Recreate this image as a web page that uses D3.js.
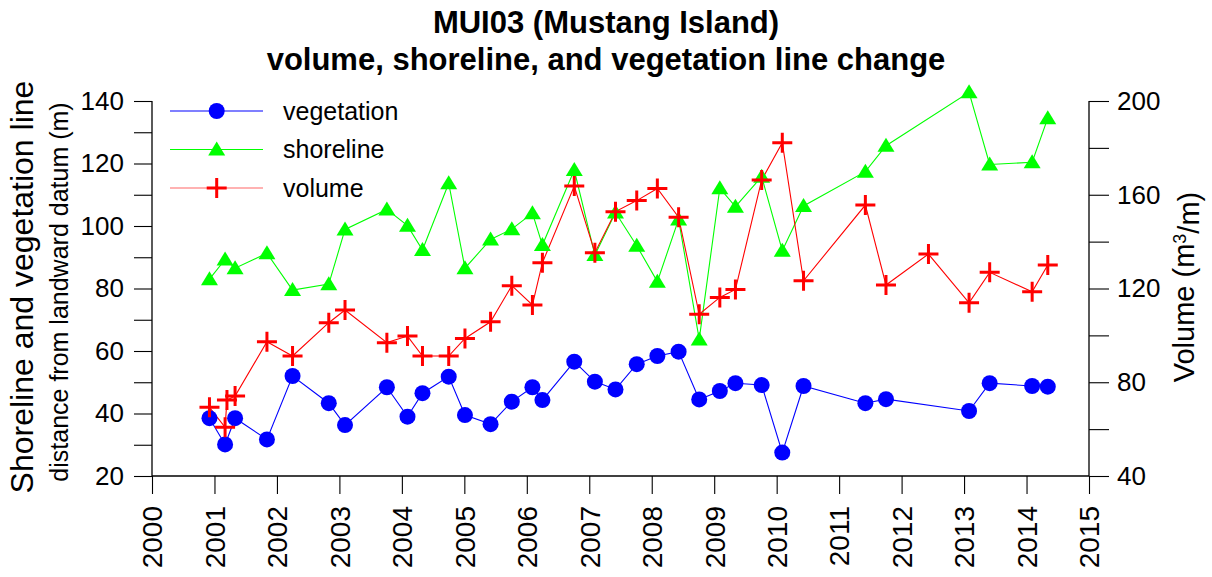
<!DOCTYPE html>
<html>
<head>
<meta charset="utf-8">
<script src="https://cdn.jsdelivr.net/npm/d3@7"></script>
<style>
  body { margin: 0; background: #fff; }
  svg { display: block; font-family: "Liberation Sans", Arial, sans-serif; }
</style>
</head>
<body>
<svg id="chart" width="1212" height="577"></svg>
<script>
// ---- data ----
const surveyDates = [2000.92, 2001.17, 2001.33, 2001.84, 2002.25, 2002.83, 2003.09, 2003.76, 2004.09, 2004.33,
  2004.75, 2005.01, 2005.42, 2005.76, 2006.09, 2006.25, 2006.76, 2007.09, 2007.42, 2007.76,
  2008.09, 2008.43, 2008.76, 2009.09, 2009.34, 2009.76, 2010.09, 2010.43, 2011.42, 2011.75,
  2013.08, 2013.41, 2014.09, 2014.34];
const vegetation = [38.5, 30.1, 38.5, 31.7, 52.0, 43.3, 36.3, 48.4, 39.0, 46.5,
  51.8, 39.5, 36.6, 43.8, 48.4, 44.3, 56.6, 50.2, 47.7, 55.8,
  58.4, 59.8, 44.5, 47.2, 49.7, 49.1, 27.5, 48.8, 43.3, 44.6,
  40.8, 49.7, 48.8, 48.6];
const shoreline = [83.0, 89.3, 86.5, 91.3, 79.5, 81.4, 98.9, 105.3, 100.1, 92.3,
  113.7, 86.5, 95.7, 99.0, 104.1, 93.9, 117.9, 90.7, 104.3, 93.7,
  82.2, 102.1, 63.7, 112.1, 106.2, 115.8, 92.1, 106.4, 117.4, 125.7,
  142.8, 119.7, 120.4, 134.5];
const volumeDates = [2000.92, 2001.17, 2001.20, 2001.33, 2001.84, 2002.25, 2002.83, 2003.09, 2003.76, 2004.09,
  2004.33, 2004.75, 2005.01, 2005.42, 2005.76, 2006.09, 2006.25, 2006.76, 2007.09, 2007.42,
  2007.76, 2008.09, 2008.43, 2008.76, 2009.09, 2009.34, 2009.76, 2010.09, 2010.43, 2011.42,
  2011.75, 2012.43, 2013.08, 2013.41, 2014.09, 2014.34];
const volume = [69.3, 60.8, 72.4, 74.1, 97.3, 91.2, 105.4, 110.8, 96.9, 99.7,
  91.2, 91.2, 98.7, 105.8, 121.2, 113.0, 131.0, 163.7, 135.3, 152.8,
  157.5, 162.7, 150.4, 109.0, 116.2, 119.6, 166.3, 182.2, 123.3, 155.6,
  121.5, 134.7, 113.9, 126.9, 118.6, 130.0];
const yearTicks = d3.range(2000, 2016);
const leftTicks = d3.range(20, 141, 10);
const rightTicks = d3.range(40, 201, 20);
const titleLines = ["MUI03 (Mustang Island)", "volume, shoreline, and vegetation line change"];
const legendLabels = ["vegetation", "shoreline", "volume"];

// ---- layout ----
const svg = d3.select("#chart");
const L = 152, R = 1089, T = 101, B = 476;
const x = d3.scaleLinear().domain([2000, 2015]).range([L, R]);
const yL = d3.scaleLinear().domain([20, 140]).range([B, T]);
const yR = d3.scaleLinear().domain([40, 200]).range([B, T]);

const blue = "#0000ff", green = "#00ff00", red = "#ff0000";

// axes
const gx = svg.append("g").attr("transform", `translate(0,${B})`)
  .call(d3.axisBottom(x).tickValues(yearTicks).tickSize(18).tickFormat(d3.format("d")));
gx.selectAll("text")
  .attr("transform", `translate(0,30) rotate(-90)`)
  .attr("x", 0).attr("y", 0).attr("dy", "0.35em")
  .attr("text-anchor", "end").style("font-size", "28px");

const gl = svg.append("g").attr("transform", `translate(${L},0)`)
  .call(d3.axisLeft(yL).tickValues(leftTicks).tickSize(18).tickPadding(10)
    .tickFormat(d => d % 20 === 0 ? d : ""));
gl.selectAll("text").style("font-size", "26px");

const gr = svg.append("g").attr("transform", `translate(${R},0)`)
  .call(d3.axisRight(yR).tickValues(rightTicks).tickSize(20).tickPadding(8)
    .tickFormat(d => d % 40 === 0 ? d : ""));
gr.selectAll("text").style("font-size", "26px");

svg.selectAll(".domain").attr("stroke", "#000").attr("stroke-width", 1.3);
svg.selectAll(".tick line").attr("stroke", "#000").attr("stroke-width", 1.1);
svg.selectAll(".tick text").attr("fill", "#000").style("font-family", "'Liberation Sans', Arial, sans-serif");
gx.select(".domain").attr("d", `M${L},0H${R}`);
gl.select(".domain").attr("d", `M0,${T}V${B}`);
gr.select(".domain").attr("d", `M0,${T}V${B}`);

// title
svg.append("g").selectAll("text").data(titleLines).join("text")
  .attr("x", 606).attr("y", (d, i) => 33 + i * 37)
  .attr("text-anchor", "middle").style("font-size", "31px").style("font-weight", "bold")
  .text(d => d);

// axis titles
svg.append("text").attr("transform", `translate(33,${287}) rotate(-90)`)
  .attr("text-anchor", "middle").style("font-size", "32px").text("Shoreline and vegetation line");
svg.append("text").attr("transform", `translate(68,${292}) rotate(-90)`)
  .attr("text-anchor", "middle").style("font-size", "25px").text("distance from landward datum (m)");
const vt = svg.append("text").attr("transform", `translate(1194,${287}) rotate(-90)`)
  .attr("text-anchor", "middle").style("font-size", "29px");
vt.append("tspan").text("Volume (m");
vt.append("tspan").attr("dy", "-0.45em").style("font-size", "18px").text("3");
vt.append("tspan").attr("dy", "0.45em").text("/m)");

// series
const vegData = surveyDates.map((d, i) => [d, vegetation[i]]);
const shoreData = surveyDates.map((d, i) => [d, shoreline[i]]);
const volData = volumeDates.map((d, i) => [d, volume[i]]);

const lineL = d3.line().x(d => x(d[0])).y(d => yL(d[1]));
const lineR = d3.line().x(d => x(d[0])).y(d => yR(d[1]));

const triPath = "M0,-8L8.5,6L-8.5,6Z";
const crossPath = "M-10,0H10M0,-10V10";

function drawLine(data, gen, color) {
  svg.append("path").datum(data).attr("d", gen).attr("fill", "none")
    .attr("stroke", color).attr("stroke-width", 1.1);
}
drawLine(vegData, lineL, blue);
drawLine(shoreData, lineL, green);
drawLine(volData, lineR, red);

svg.append("g").selectAll("circle").data(vegData).join("circle")
  .attr("cx", d => x(d[0])).attr("cy", d => yL(d[1])).attr("r", 8).attr("fill", blue);
svg.append("g").selectAll("path").data(shoreData).join("path")
  .attr("transform", d => `translate(${x(d[0])},${yL(d[1])})`).attr("d", triPath).attr("fill", green);
svg.append("g").selectAll("path").data(volData).join("path")
  .attr("transform", d => `translate(${x(d[0])},${yR(d[1])})`).attr("d", crossPath)
  .attr("stroke", red).attr("stroke-width", 3).attr("fill", "none");

// legend
const legendColors = [blue, green, red];
const lg = svg.append("g");
legendLabels.forEach((lab, i) => {
  const yy = 111 + i * 38.5;
  lg.append("line").attr("x1", 170).attr("x2", 263).attr("y1", yy).attr("y2", yy)
    .attr("stroke", legendColors[i]).attr("stroke-width", 1.1).attr("opacity", i === 2 ? 0.6 : 1);
  if (i === 0) lg.append("circle").attr("cx", 216.7).attr("cy", yy).attr("r", 8).attr("fill", blue);
  if (i === 1) lg.append("path").attr("transform", `translate(216.7,${yy})`).attr("d", triPath).attr("fill", green);
  if (i === 2) lg.append("path").attr("transform", `translate(216.7,${yy})`).attr("d", crossPath)
    .attr("stroke", red).attr("stroke-width", 3);
  lg.append("text").attr("x", 283).attr("y", yy).attr("dy", "0.35em").style("font-size", "25px").text(lab);
});
</script>
</body>
</html>
